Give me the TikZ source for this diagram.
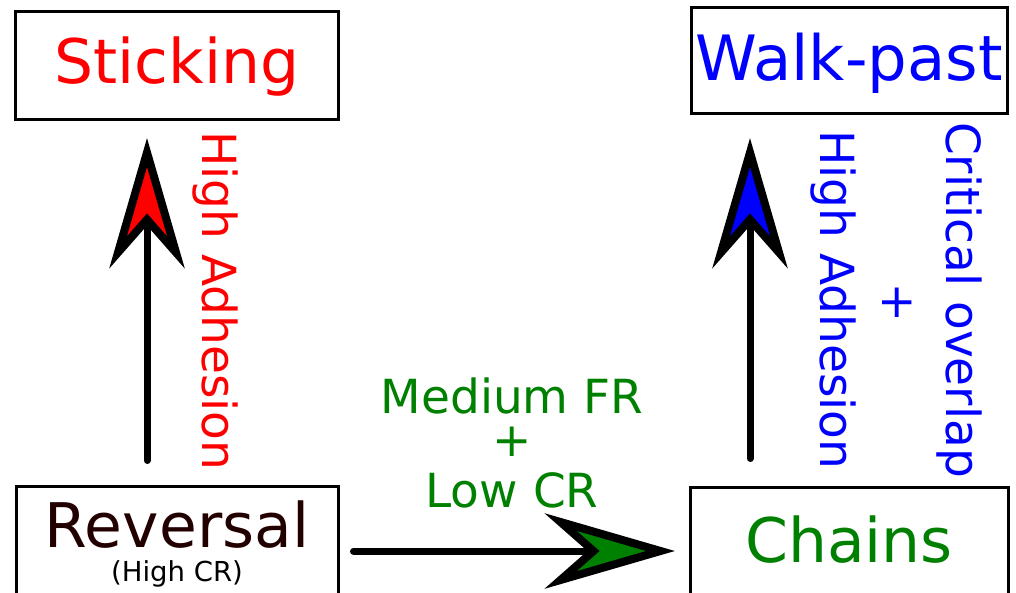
\documentclass[tikz,border=0pt]{standalone}
\usepackage{fontspec}
\setmainfont{DejaVu Sans}
\usetikzlibrary{calc}
\definecolor{cRed}{RGB}{255,0,0}
\definecolor{cBlue}{RGB}{0,0,255}
\definecolor{cGreen}{RGB}{0,128,0}
\definecolor{cDark}{RGB}{34,0,0}
\tikzset{
  box/.style={draw=black, line width=3pt, fill=white, inner sep=0pt},
  bigtxt/.style={font=\fontsize{61.5pt}{61.5pt}\selectfont},
  lbl/.style={font=\fontsize{47pt}{47pt}\selectfont, inner sep=0pt},
  conn/.style={line width=7pt, line cap=round, black},
  headshape/.style={draw=black, line width=8pt, line join=miter, fill=#1}
}
% arrowhead: #1 tip point, #2 direction angle, #3 fill colour
\newcommand\myhead[3]{%
  \begin{scope}[shift={#1}, rotate=#2]
    \filldraw[headshape=#3] (-13pt,0pt) -- (-113pt,29pt) -- (-80pt,0pt) -- (-113pt,-29pt) -- cycle;
  \end{scope}}
\begin{document}
\begin{tikzpicture}[x=1pt, y=-1pt]
\useasboundingbox (0,0) rectangle (1016,592);
\clip (0,0) rectangle (1016,592);
\fill[white] (0,0) rectangle (1016,592);

% boxes
\node[box, bigtxt, text=cRed, minimum width=323pt, minimum height=108pt,
      text height=47pt, text depth=11pt] (stick) at (177,65) {Sticking};
\node[box, font=\fontsize{62.5pt}{62.5pt}\selectfont, text=cBlue, minimum width=316pt, minimum height=106pt,
      text height=47pt, text depth=7pt] (walk) at (849,60) {Walk-past};
\node[box, bigtxt, text=cDark, minimum width=322pt, minimum height=130pt,
      text height=47pt, text depth=55pt] (rev) at (177,551) {Reversal};
\node[box, bigtxt, text=cGreen, minimum width=318pt, minimum height=128pt,
      text height=47pt, text depth=25pt] (chains) at (849,551) {Chains};
\node[font=\fontsize{27.5pt}{27.5pt}\selectfont, anchor=base, inner sep=0pt] (hcr) at (177,581) {(High CR)};

% labels
\node[lbl, text=cRed, rotate=-90, anchor=base] (la) at (202,301) {High Adhesion};
\node[lbl, text=cBlue, rotate=-90, anchor=base] (lb) at (820,300) {High Adhesion};
\node[lbl, text=cBlue] (lplus) at (897,303) {+};
\node[lbl, text=cBlue, rotate=-90, anchor=base] (lc) at (946,300) {Critical overlap};
\node[lbl, text=cGreen, anchor=base] (m1) at (512,413) {Medium FR};
\node[lbl, text=cGreen] (m2) at (512,442) {+};
\node[lbl, text=cGreen, anchor=base] (m3) at (512,507) {Low CR};

% connectors (shaft from node to node, head drawn at the target end)
\draw[conn, shorten <=24pt, shorten >=90pt]
  ([xshift=-30pt]rev.north) -- ([xshift=-30pt]stick.south);
\myhead{([xshift=-30pt, yshift=-19pt]stick.south)}{90}{cRed}
\draw[conn, shorten <=27pt, shorten >=96pt]
  ([xshift=-99pt]chains.north) -- ([xshift=-99pt]walk.south);
\myhead{([xshift=-99pt, yshift=-25pt]walk.south)}{90}{cBlue}
\draw[conn, shorten <=14pt, shorten >=86pt]
  (rev.east) -- (chains.west);
\myhead{([xshift=-15pt]chains.west)}{0}{cGreen}
\end{tikzpicture}
\end{document}
